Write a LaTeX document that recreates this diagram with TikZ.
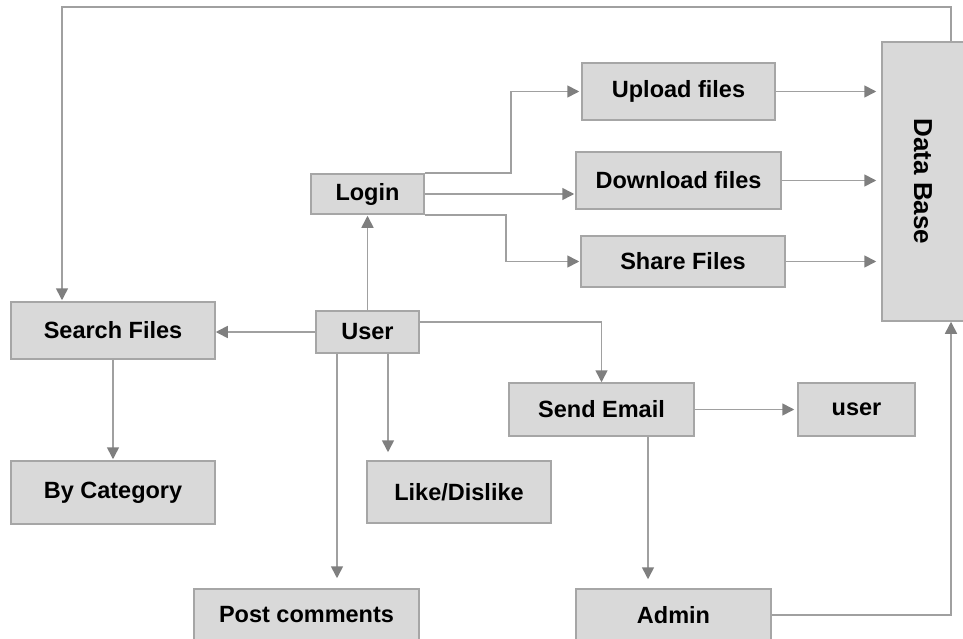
\documentclass[tikz,border=0pt]{standalone}
\usepackage{fontspec}
\setmainfont{Liberation Sans}
\usepackage{graphicx}
\usetikzlibrary{arrows.meta,calc}
\definecolor{boxfill}{HTML}{D9D9D9}
\definecolor{boxline}{HTML}{A6A6A6}
\definecolor{wirecol}{HTML}{A0A0A0}
\definecolor{tipgray}{HTML}{7F7F7F}
\begin{document}
\begin{tikzpicture}[x=1pt,y=-1pt,
  box/.style={draw=boxline, fill=boxfill, line width=1.5pt, inner sep=0pt,
    font=\fontsize{23.5}{28}\selectfont\bfseries},
  wire/.style={draw=wirecol, line width=1.6pt,
    -{Triangle[length=12pt,width=12pt,color=tipgray]}}]
\useasboundingbox (0,0) rectangle (963,639);

% boxes
\node[box,minimum width=193pt,minimum height=57pt] (upload)   at (678.5,91.5)  {Upload files};
\node[box,minimum width=205pt,minimum height=57pt] (download) at (678.5,180.5) {Download files};
\node[box,minimum width=204pt,minimum height=51pt] (share)    at (683,261.5)   {Share Files};
\node[box,minimum width=113pt,minimum height=40pt] (login)    at (367.5,194)   {Login};
\node[box,minimum width=82pt,minimum height=279pt,
      font=\fontsize{26}{30}\selectfont\bfseries] (db)       at (923,181.5)   {\rotatebox{-90}{Data Base}};
\node[box,minimum width=204pt,minimum height=57pt] (search)   at (113,330.5)   {Search Files};
\node[box,minimum width=103pt,minimum height=42pt] (usr)      at (367.5,332)   {User};
\node[box,minimum width=185pt,minimum height=53pt] (email)    at (601.5,409.5) {Send Email};
\node[box,minimum width=117pt,minimum height=53pt] (usr2)     at (856.5,409.5) {user};
\node[box,minimum width=204pt,minimum height=63pt] (bycat)    at (113,492.5)   {By Category};
\node[box,minimum width=184pt,minimum height=62pt] (like)     at (459,492)     {Like/Dislike};
\node[box,minimum width=225pt,minimum height=52pt] (post)     at (306.5,615)   {Post comments};
\node[box,minimum width=195pt,minimum height=52pt] (admin)    at (673.5,615)   {Admin};

% connectors
\draw[wire,shorten >=1pt] ($(db.north)+(28,0)$) -- ++(0,-34) -| ($(search.north)+(-51,0)$);
\draw[wire,shorten >=2pt] (login.north east) -- ++(86,0) |- (upload.west);
\draw[wire,shorten >=1pt] (login.east) -- (login.east -| download.west);
\draw[wire,shorten >=1pt] (login.south east) -- ++(81,0) |- (share.west);
\draw[wire,shorten >=5pt] (upload.east) -- (upload.east -| db.west);
\draw[wire,shorten >=5pt] (download.east) -- (download.east -| db.west);
\draw[wire,shorten >=5pt] (share.east) -- (share.east -| db.west);
\draw[wire,shorten >=1pt] (usr.north) -- (login.south);
\draw[wire,shorten >=0pt] (usr.west) -- (usr.west -| search.east);
\draw[wire,shorten >=0pt] ($(usr.east)+(0,-10)$) -| (email.north);
\draw[wire,shorten >=8pt] ($(usr.south)+(20.5,0)$) coordinate (ulike) -- (ulike |- like.north);
\draw[wire,shorten >=10pt] ($(usr.south)+(-30.5,0)$) coordinate (upost) -- (upost |- post.north);
\draw[wire,shorten >=1pt] (search.south) -- (bycat.north);
\draw[wire,shorten >=3pt] (email.east) -- (email.east -| usr2.west);
\draw[wire,shorten >=9pt] ($(email.south)+(46.5,0)$) coordinate (eadm) -- (eadm |- admin.north);
\draw[wire,shorten >=0pt] (admin.east) -| ($(db.south)+(28,0)$);
\end{tikzpicture}
\end{document}
